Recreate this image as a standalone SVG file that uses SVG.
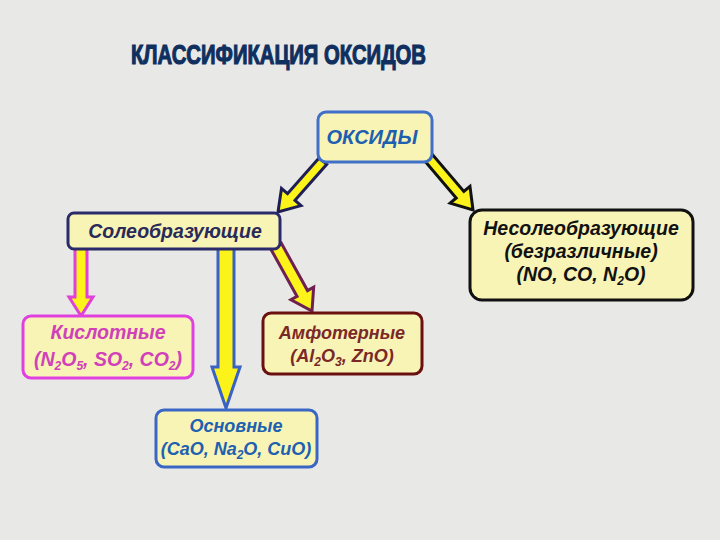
<svg xmlns="http://www.w3.org/2000/svg" width="720" height="540" viewBox="0 0 720 540">
<style>
.box{fill:#f8f4b6;stroke-width:3}
.t{font-family:"Liberation Sans",Arial,sans-serif;font-weight:bold;font-style:italic;text-anchor:middle}
.arr{fill:#fbf31a;stroke-width:3;stroke-linejoin:miter}
.sub{font-size:12px}
</style>
<rect width="720" height="540" fill="#e8e8e6"/>
<text x="131" y="64" font-family="Liberation Sans,Arial,sans-serif" font-weight="bold" font-size="28" fill="#0f2f5e" stroke="#0f2f5e" stroke-width="1.2" textLength="295" lengthAdjust="spacingAndGlyphs">КЛАССИФИКАЦИЯ ОКСИДОВ</text>
<g id="connectors">
<polygon class="arr" stroke="#1e1e55" points="319.25,157.69 287.49,193.69 281.49,188.39 278,212 300.99,205.61 294.99,200.31 326.75,164.31"/>
<polygon class="arr" stroke="#111111" points="424.19,160.24 456.24,197.99 450.14,203.16 473,210 469.96,186.34 463.86,191.51 431.81,153.76"/>
<polygon class="arr" stroke="#e040d8" points="75,248 75,297 69,297 81,316 93,297 87,297 87,248"/>
<polygon class="arr" stroke="#3a62c2" points="218,248 218,367 212,367 226,408 240,367 234,367 234,248"/>
<polygon class="arr" stroke="#6e2050" points="270.75,248.91 297.06,296.41 290.94,299.8 312,311 313.68,287.2 307.56,290.59 281.25,243.09"/>
</g>
<g id="oxides">
<rect class="box" x="318" y="112" width="114" height="50" rx="8" stroke="#3f6fc7"/>
<text class="t" x="372" y="144" font-size="20" fill="#1f5fb0">ОКСИДЫ</text>
</g>
<g id="salt-forming">
<rect class="box" x="68" y="213" width="212" height="36" rx="6" stroke="#2b2b6b"/>
<text class="t" x="175" y="238" font-size="19.5" fill="#2a2a5a">Солеобразующие</text>
</g>
<g id="non-salt-forming">
<rect class="box" x="470" y="210" width="223" height="90" rx="12" stroke="#111111"/>
<text class="t" x="581" y="235" font-size="19.5" fill="#111111">Несолеобразующие</text>
<text class="t" x="581" y="258" font-size="19.5" fill="#111111">(безразличные)</text>
<text class="t" x="581" y="281" font-size="19.5" fill="#111111">(NO, CO, N<tspan class="sub" font-size="13" dy="4">2</tspan><tspan dy="-4">O)</tspan></text>
</g>
<g id="acidic">
<rect class="box" x="23" y="316" width="170" height="62" rx="8" stroke="#e040e0"/>
<text class="t" x="108" y="339" font-size="19.5" fill="#d040b8">Кислотные</text>
<text class="t" x="108" y="366" font-size="19.5" fill="#d040b8">(N<tspan class="sub" font-size="13" dy="4">2</tspan><tspan dy="-4">O</tspan><tspan class="sub" font-size="13" dy="4">5</tspan><tspan dy="-4">, SO</tspan><tspan class="sub" font-size="13" dy="4">2</tspan><tspan dy="-4">, CO</tspan><tspan class="sub" font-size="13" dy="4">2</tspan><tspan dy="-4">)</tspan></text>
</g>
<g id="amphoteric">
<rect class="box" x="263" y="313" width="159" height="61" rx="8" stroke="#6b1010"/>
<text class="t" x="342" y="339" font-size="18" fill="#7a2828">Амфотерные</text>
<text class="t" x="342" y="362" font-size="18" fill="#7a2828">(Al<tspan class="sub" dy="4">2</tspan><tspan dy="-4">O</tspan><tspan class="sub" dy="4">3</tspan><tspan dy="-4">, ZnO)</tspan></text>
</g>
<g id="basic">
<rect class="box" x="156" y="410" width="161" height="57" rx="8" stroke="#3a66c4"/>
<text class="t" x="236" y="432" font-size="18" fill="#2060b0">Основные</text>
<text class="t" x="236" y="455" font-size="18" fill="#2060b0">(CaO, Na<tspan class="sub" dy="4">2</tspan><tspan dy="-4">O, CuO)</tspan></text>
</g>
</svg>
